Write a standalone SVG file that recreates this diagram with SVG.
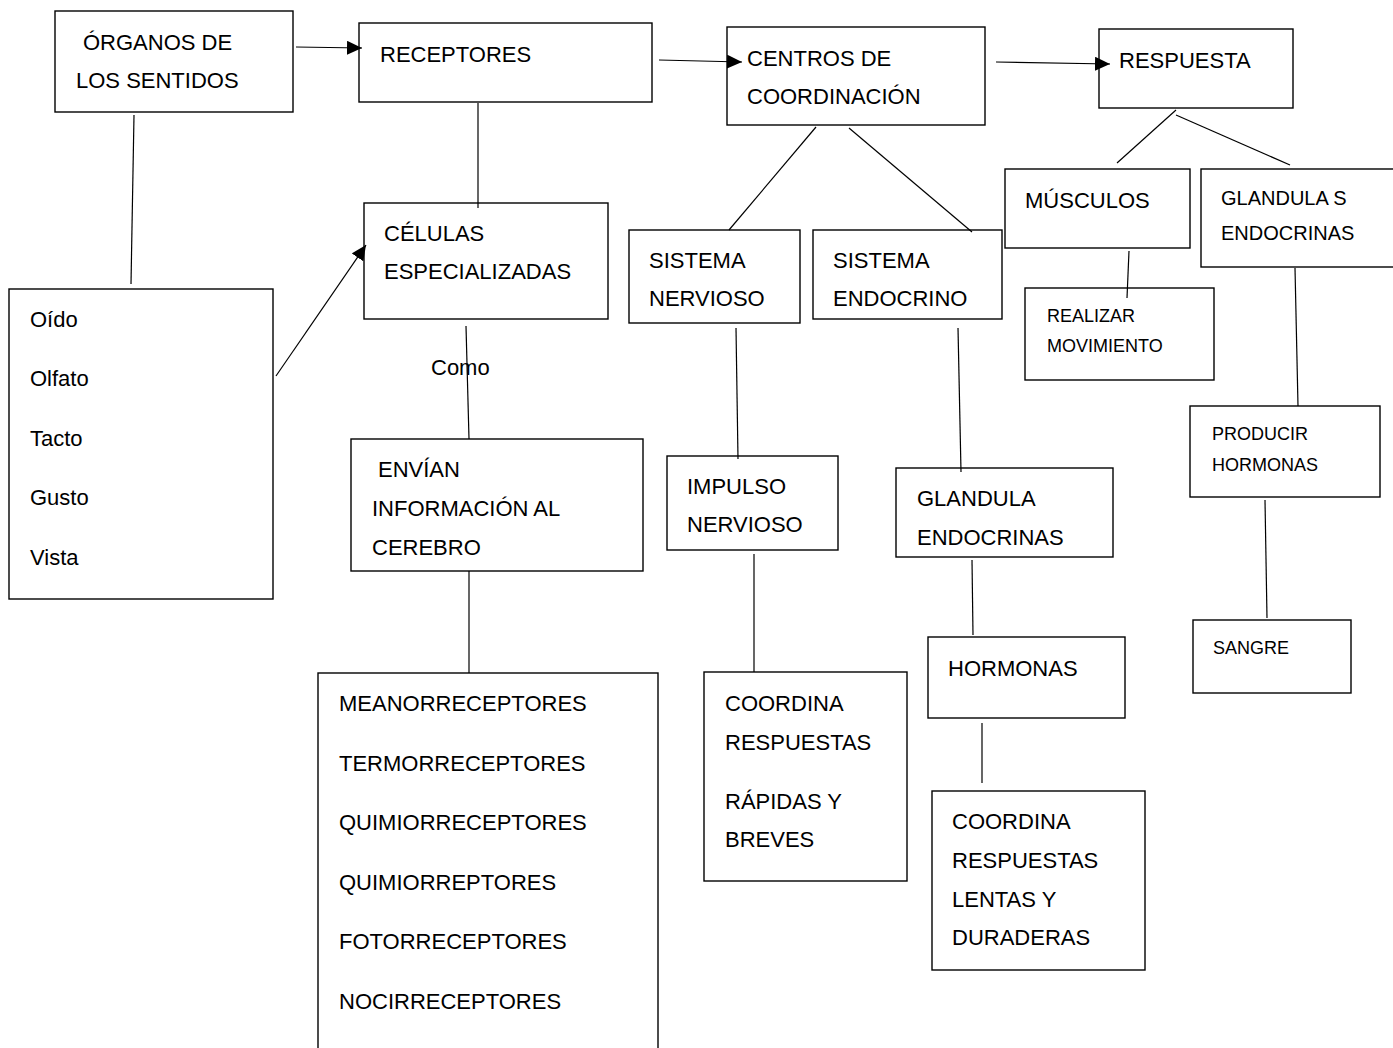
<svg xmlns="http://www.w3.org/2000/svg" width="1393" height="1048" viewBox="0 0 1393 1048">
<style>
.b{fill:#fff;stroke:#000;stroke-width:1.4}
.t{font-family:"Liberation Sans",Arial,sans-serif;font-size:22px;fill:#000}
.s{font-family:"Liberation Sans",Arial,sans-serif;font-size:18px;fill:#000}
.c{fill:none;stroke:#000;stroke-width:1.2}
</style>
<defs>
<marker id="ah" viewBox="0 0 15 14" refX="15" refY="7" markerWidth="15" markerHeight="14" markerUnits="userSpaceOnUse" orient="auto">
<path d="M0,0 L15,7 L0,14 Z" fill="#000"/>
</marker>
</defs>
<rect width="1393" height="1048" fill="#fff"/>
<g id="organos"><rect class="b" x="55" y="11" width="238" height="101"/><text class="t" x="83" y="50">ÓRGANOS DE</text><text class="t" x="76" y="88">LOS SENTIDOS</text></g>
<g id="receptores"><rect class="b" x="359" y="23" width="293" height="79"/><text class="t" x="380" y="62">RECEPTORES</text></g>
<g id="centros"><rect class="b" x="727" y="27" width="258" height="98"/><text class="t" x="747" y="66">CENTROS DE</text><text class="t" x="747" y="104">COORDINACIÓN</text></g>
<g id="respuesta"><rect class="b" x="1099" y="29" width="194" height="79"/><text class="t" x="1119" y="68">RESPUESTA</text></g>
<g id="celulas"><rect class="b" x="364" y="203" width="244" height="116"/><text class="t" x="384" y="241">CÉLULAS</text><text class="t" x="384" y="279">ESPECIALIZADAS</text></g>
<g id="sentidos"><rect class="b" x="9" y="289" width="264" height="310"/><text class="t" x="30" y="327">Oído</text><text class="t" x="30" y="386">Olfato</text><text class="t" x="30" y="446">Tacto</text><text class="t" x="30" y="505">Gusto</text><text class="t" x="30" y="565">Vista</text></g>
<g id="nervioso"><rect class="b" x="629" y="230" width="171" height="93"/><text class="t" x="649" y="268">SISTEMA</text><text class="t" x="649" y="306">NERVIOSO</text></g>
<g id="endocrino"><rect class="b" x="813" y="230" width="189" height="89"/><text class="t" x="833" y="268">SISTEMA</text><text class="t" x="833" y="306">ENDOCRINO</text></g>
<g id="musculos"><rect class="b" x="1005" y="169" width="185" height="79"/><text class="t" x="1025" y="208">MÚSCULOS</text></g>
<g id="glandulas"><rect class="b" x="1201" y="169" width="195" height="98"/><text class="t" x="1221" y="205" style="font-size:20px">GLANDULA S</text><text class="t" x="1221" y="240" style="font-size:20px">ENDOCRINAS</text></g>
<g id="realizar"><rect class="b" x="1025" y="288" width="189" height="92"/><text class="s" x="1047" y="322">REALIZAR</text><text class="s" x="1047" y="352">MOVIMIENTO</text></g>
<g id="producir"><rect class="b" x="1190" y="406" width="190" height="91"/><text class="s" x="1212" y="440">PRODUCIR</text><text class="s" x="1212" y="471">HORMONAS</text></g>
<g id="sangre"><rect class="b" x="1193" y="620" width="158" height="73"/><text class="s" x="1213" y="654">SANGRE</text></g>
<g id="como"><text class="t" x="431" y="375">Como</text></g>
<g id="envian"><rect class="b" x="351" y="439" width="292" height="132"/><text class="t" x="378" y="477">ENVÍAN</text><text class="t" x="372" y="516">INFORMACIÓN AL</text><text class="t" x="372" y="555">CEREBRO</text></g>
<g id="impulso"><rect class="b" x="667" y="456" width="171" height="94"/><text class="t" x="687" y="494">IMPULSO</text><text class="t" x="687" y="532">NERVIOSO</text></g>
<g id="glandula-endocrinas"><rect class="b" x="896" y="468" width="217" height="89"/><text class="t" x="917" y="506">GLANDULA</text><text class="t" x="917" y="545">ENDOCRINAS</text></g>
<g id="hormonas"><rect class="b" x="928" y="637" width="197" height="81"/><text class="t" x="948" y="676">HORMONAS</text></g>
<g id="tipos"><rect class="b" x="318" y="673" width="340" height="390"/><text class="t" x="339" y="711">MEANORRECEPTORES</text><text class="t" x="339" y="771">TERMORRECEPTORES</text><text class="t" x="339" y="830">QUIMIORRECEPTORES</text><text class="t" x="339" y="890">QUIMIORREPTORES</text><text class="t" x="339" y="949">FOTORRECEPTORES</text><text class="t" x="339" y="1009">NOCIRRECEPTORES</text></g>
<g id="rapidas"><rect class="b" x="704" y="672" width="203" height="209"/><text class="t" x="725" y="711">COORDINA</text><text class="t" x="725" y="750">RESPUESTAS</text><text class="t" x="725" y="809">RÁPIDAS Y</text><text class="t" x="725" y="847">BREVES</text></g>
<g id="lentas"><rect class="b" x="932" y="791" width="213" height="179"/><text class="t" x="952" y="829">COORDINA</text><text class="t" x="952" y="868">RESPUESTAS</text><text class="t" x="952" y="907">LENTAS Y</text><text class="t" x="952" y="945">DURADERAS</text></g>
<g id="connectors">
<line class="c" x1="296" y1="47" x2="362" y2="48" marker-end="url(#ah)"/>
<line class="c" x1="659" y1="60" x2="742" y2="62" marker-end="url(#ah)"/>
<line class="c" x1="996" y1="62" x2="1110" y2="64" marker-end="url(#ah)"/>
<line class="c" x1="134" y1="115" x2="131" y2="284"/>
<line class="c" x1="478" y1="103" x2="478" y2="208"/>
<line class="c" x1="276" y1="376" x2="366" y2="245" marker-end="url(#ah)"/>
<line class="c" x1="466" y1="326" x2="469" y2="439"/>
<line class="c" x1="816" y1="127" x2="729" y2="230"/>
<line class="c" x1="849" y1="128" x2="972" y2="232"/>
<line class="c" x1="1176" y1="110" x2="1117" y2="163"/>
<line class="c" x1="1176" y1="115" x2="1290" y2="165"/>
<line class="c" x1="1129" y1="251" x2="1127" y2="298"/>
<line class="c" x1="1295" y1="268" x2="1298" y2="406"/>
<line class="c" x1="1265" y1="500" x2="1267" y2="618"/>
<line class="c" x1="736" y1="328" x2="738" y2="459"/>
<line class="c" x1="958" y1="328" x2="961" y2="472"/>
<line class="c" x1="469" y1="571" x2="469" y2="673"/>
<line class="c" x1="754" y1="554" x2="754" y2="672"/>
<line class="c" x1="972" y1="560" x2="973" y2="635"/>
<line class="c" x1="982" y1="723" x2="982" y2="783"/>
</g>
</svg>
